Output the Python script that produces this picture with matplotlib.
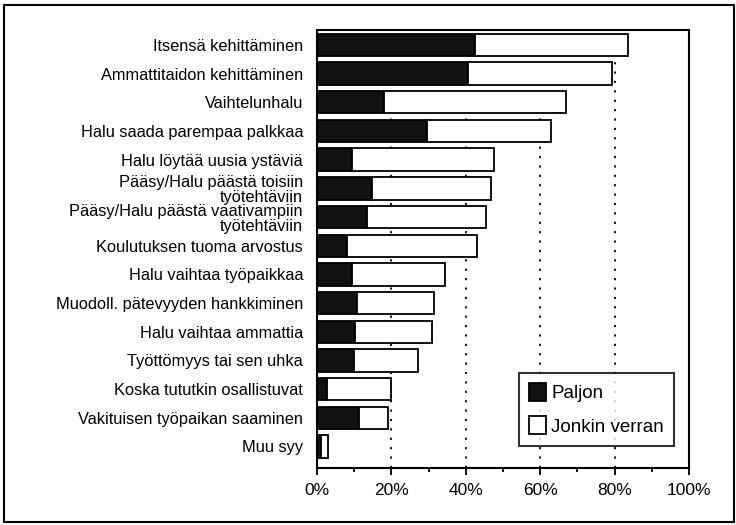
import matplotlib
import matplotlib.pyplot as plt
from matplotlib.patches import Rectangle
import numpy as np

matplotlib.rcParams["font.family"] = ["Liberation Sans", "DejaVu Sans"]

# syyt koulutukseen osallistumiselle (ylhäältä alas)
categories = [
    "Itsensä kehittäminen",
    "Ammattitaidon kehittäminen",
    "Vaihtelunhalu",
    "Halu saada parempaa palkkaa",
    "Halu löytää uusia ystäviä",
    "Pääsy/Halu päästä toisiin\ntyötehtäviin",
    "Pääsy/Halu päästä vaativampiin\ntyötehtäviin",
    "Koulutuksen tuoma arvostus",
    "Halu vaihtaa työpaikkaa",
    "Muodoll. pätevyyden hankkiminen",
    "Halu vaihtaa ammattia",
    "Työttömyys tai sen uhka",
    "Koska tututkin osallistuvat",
    "Vakituisen työpaikan saaminen",
    "Muu syy",
]
paljon = [42.5, 40.5, 18, 29.5, 9.5, 14.8, 13.4, 8, 9.5, 10.8, 10.2, 10, 2.7, 11.2, 1]
jonkin_verran = [41.2, 38.7, 49, 33.3, 38, 32.1, 32.1, 35, 25, 20.6, 20.6, 17.2, 17.3, 7.8, 2]
xticks = [0, 20, 40, 60, 80, 100]
xtick_labels = ["0%", "20%", "40%", "60%", "80%", "100%"]
series_names = ["Paljon", "Jonkin verran"]

fig = plt.figure(figsize=(7.36, 5.25), dpi=100)
ax = fig.add_axes([317 / 736, 1 - 468 / 525, 372 / 736, 438 / 525])

y = np.arange(len(categories))
ax.barh(y, paljon, height=0.78, color="#111111", edgecolor="black",
        linewidth=1.3, zorder=3, label=series_names[0])
ax.barh(y, jonkin_verran, left=paljon, height=0.78, color="white",
        edgecolor="black", linewidth=1.3, zorder=3, label=series_names[1])

for gx in xticks[1:-1]:
    ax.axvline(gx, color="black", linestyle=(0, (1.2, 4)), linewidth=1.3, zorder=1)

ax.set_xlim(0, 100)
ax.set_ylim(14.75, -0.52)
ax.set_yticks(y)
ax.set_yticklabels(categories, fontsize=11.8, linespacing=1.0)
ax.tick_params(axis="y", length=0, pad=10)
ax.set_xticks(xticks)
ax.set_xticklabels(xtick_labels, fontsize=12.5)
ax.set_xticks(np.arange(10, 100, 20), minor=True)
ax.tick_params(axis="x", which="major", length=5, width=1.3, pad=6)
ax.tick_params(axis="x", which="minor", length=3, width=1.3)
for sp in ax.spines.values():
    sp.set_linewidth(1.5)

leg = ax.legend(loc="lower right", bbox_to_anchor=(0.96, 0.05), fontsize=13.5,
                fancybox=False, frameon=True, handlelength=0.9, handleheight=1.1,
                handletextpad=0.25, borderpad=0.55, labelspacing=0.75, borderaxespad=0)
leg.get_frame().set_edgecolor("black")
leg.get_frame().set_linewidth(1.5)

# kehys kuvan ympärillä
fig.patches.append(Rectangle((4 / 736, 3 / 525), 730 / 736, 517 / 525,
                             transform=fig.transFigure, fill=False,
                             edgecolor="black", linewidth=1.5))

fig.savefig("out.png", dpi=100)
